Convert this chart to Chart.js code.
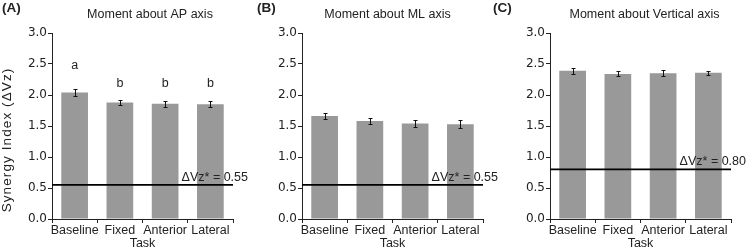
<!DOCTYPE html>
<html>
<head>
<meta charset="utf-8">
<script src="https://cdn.jsdelivr.net/npm/chart.js@4.4.1/dist/chart.umd.min.js"></script>
<style>
    html, body { margin: 0; padding: 0; background: #fff; }
    #wrap { position: relative; width: 748px; height: 251px; }
    #wrap canvas { position: absolute; left: 0; top: 0; }
</style>
</head>
<body>
<div id="wrap">
    <canvas id="panelA" width="748" height="251"></canvas>
    <canvas id="panelB" width="748" height="251"></canvas>
    <canvas id="panelC" width="748" height="251"></canvas>
</div>
<script>
// Datos
const tasks = ['Baseline', 'Fixed', 'Anterior', 'Lateral'];
const yTicks = [0, 0.5, 1.0, 1.5, 2.0, 2.5, 3.0];

const apMeans = [2.04, 1.88, 1.86, 1.85];
const apErrors = [0.05, 0.045, 0.05, 0.05];
const apLetters = ['a', 'b', 'b', 'b'];
const apLetterLevels = [2.47, 2.19, 2.19, 2.19];

const mlMeans = [1.66, 1.58, 1.54, 1.53];
const mlErrors = [0.045, 0.055, 0.06, 0.06];

const vtMeans = [2.39, 2.34, 2.35, 2.36];
const vtErrors = [0.045, 0.04, 0.05, 0.03];

const thresholds = [0.55, 0.55, 0.80];

const TEXT = '#222';
const SANS = '"Liberation Sans", Arial, sans-serif';

// Barras de error, línea umbral, letras y títulos
const overlayPlugin = {
    id: 'overlay',
    afterDatasetsDraw(chart, args, opts) {
        const { ctx, chartArea } = chart;
        const y = chart.scales.y;
        const meta = chart.getDatasetMeta(0);
        ctx.save();

        ctx.strokeStyle = '#111';
        ctx.lineWidth = 1;
        meta.data.forEach((bar, i) => {
            const v = opts.means[i], e = opts.errors[i];
            const yTop = Math.round(y.getPixelForValue(v + e)) + 0.5;
            const yBot = Math.round(y.getPixelForValue(v - e)) + 0.5;
            const bx = Math.round(bar.x) + 0.5;
            ctx.beginPath();
            ctx.moveTo(bx, yTop); ctx.lineTo(bx, yBot);
            ctx.moveTo(bx - 2, yTop); ctx.lineTo(bx + 2, yTop);
            ctx.moveTo(bx - 2, yBot); ctx.lineTo(bx + 2, yBot);
            ctx.stroke();
        });

        // Línea de umbral ΔVz*
        const ty = y.getPixelForValue(opts.threshold);
        ctx.strokeStyle = '#000';
        ctx.lineWidth = 1.8;
        ctx.beginPath();
        ctx.moveTo(chartArea.left, ty);
        ctx.lineTo(chartArea.right, ty);
        ctx.stroke();

        ctx.fillStyle = TEXT;
        ctx.font = '12.5px ' + SANS;
        ctx.textAlign = 'right';
        ctx.textBaseline = 'alphabetic';
        ctx.fillText('\u0394Vz* = ' + opts.threshold.toFixed(2), chartArea.right + 15, ty - 4);

        // Letras de significancia
        if (opts.letters) {
            ctx.font = '12.5px ' + SANS;
            ctx.textAlign = 'center';
            ctx.textBaseline = 'middle';
            meta.data.forEach((bar, i) => {
                ctx.fillText(opts.letters[i], bar.x, y.getPixelForValue(opts.letterLevels[i]));
            });
        }

        // Título del eje Y (más espaciado que el resto)
        if (opts.yTitle) {
            ctx.save();
            ctx.translate(7, 140);
            ctx.rotate(-Math.PI / 2);
            ctx.font = '13.5px ' + SANS;
            if ('letterSpacing' in ctx) ctx.letterSpacing = '1.1px';
            ctx.textAlign = 'center';
            ctx.textBaseline = 'middle';
            ctx.fillText(opts.yTitle, 0, 0);
            ctx.restore();
        }

        // Título y etiqueta del panel
        ctx.font = '12.5px ' + SANS;
        ctx.textAlign = 'center';
        ctx.textBaseline = 'middle';
        ctx.fillText(opts.title, opts.titleX, 15);

        ctx.font = 'bold 13.5px ' + SANS;
        ctx.textAlign = 'left';
        ctx.fillText(opts.tag, opts.tagX, 8);

        ctx.restore();
    }
};

function makePanel(id, cfg) {
    return new Chart(document.getElementById(id), {
        type: 'bar',
        data: {
            labels: tasks,
            datasets: [{
                data: cfg.means,
                backgroundColor: '#999999',
                barPercentage: 0.59,
                categoryPercentage: 1
            }]
        },
        options: {
            responsive: false,
            animation: false,
            events: [],
            layout: {
                padding: { left: cfg.left - 52, right: 748 - cfg.right, top: 33, bottom: 0 }
            },
            plugins: {
                legend: { display: false },
                tooltip: { enabled: false },
                overlay: {
                    means: cfg.means,
                    errors: cfg.errors,
                    threshold: cfg.threshold,
                    letters: cfg.letters,
                    letterLevels: cfg.letterLevels,
                    title: cfg.title,
                    titleX: cfg.titleX,
                    tag: cfg.tag,
                    tagX: cfg.tagX,
                    yTitle: cfg.yTitle
                }
            },
            scales: {
                x: {
                    grid: { display: true, drawOnChartArea: false, tickLength: 4, color: '#222' },
                    border: { display: true, color: '#222', width: 1 },
                    ticks: {
                        font: { family: SANS, size: 12.5 },
                        color: TEXT,
                        padding: 0,
                        maxRotation: 0,
                        autoSkip: false
                    },
                    title: {
                        display: true,
                        text: 'Task',
                        font: { family: SANS, size: 12.5 },
                        color: TEXT,
                        padding: 0
                    },
                    afterFit(scale) {
                        scale.height = 32;
                        scale.paddingLeft = 0;
                        scale.paddingRight = 0;
                    }
                },
                y: {
                    min: 0,
                    max: 3,
                    afterBuildTicks(scale) {
                        scale.ticks = yTicks.map(v => ({ value: v }));
                    },
                    ticks: {
                        callback: v => Number(v).toFixed(1),
                        font: { family: '"DejaVu Sans", sans-serif', size: 12 },
                        color: TEXT,
                        padding: 1
                    },
                    grid: { display: true, drawOnChartArea: false, tickLength: 4, color: '#222' },
                    border: { display: true, color: '#222', width: 1 },
                    afterFit(scale) {
                        scale.width = 52;
                        scale.paddingTop = 0;
                        scale.paddingBottom = 0;
                    }
                }
            }
        },
        plugins: [overlayPlugin]
    });
}

makePanel('panelA', {
    left: 52, right: 233,
    means: apMeans, errors: apErrors, threshold: thresholds[0],
    letters: apLetters, letterLevels: apLetterLevels,
    title: 'Moment about AP axis', titleX: 150,
    tag: '(A)', tagX: 2,
    yTitle: 'Synergy Index (\u0394Vz)'
});

makePanel('panelB', {
    left: 302, right: 483,
    means: mlMeans, errors: mlErrors, threshold: thresholds[1],
    title: 'Moment about ML axis', titleX: 387.5,
    tag: '(B)', tagX: 257
});

makePanel('panelC', {
    left: 550, right: 731,
    means: vtMeans, errors: vtErrors, threshold: thresholds[2],
    title: 'Moment about Vertical axis', titleX: 644.5,
    tag: '(C)', tagX: 493
});
</script>
</body>
</html>
